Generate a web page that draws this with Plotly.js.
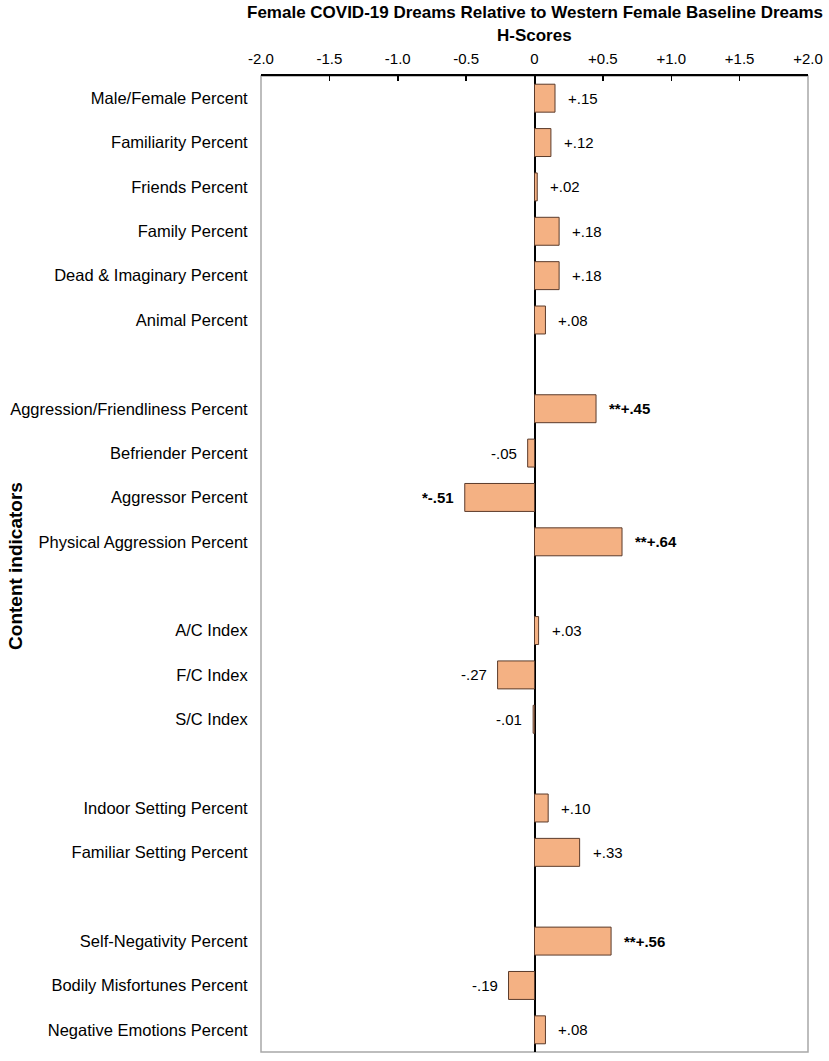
<!DOCTYPE html>
<html>
<head>
<meta charset="utf-8">
<script src="https://cdn.plot.ly/plotly-3.0.1.min.js"></script>
<style>
  body { margin: 0; background: #fff; }
  #chart { width: 829px; height: 1061px; }
</style>
</head>
<body>
<div id="chart"></div>
<script>
// null marks the empty row between groups
const categories = [
    'Male/Female Percent', 'Familiarity Percent', 'Friends Percent', 'Family Percent',
    'Dead & Imaginary Percent', 'Animal Percent', null,
    'Aggression/Friendliness Percent', 'Befriender Percent', 'Aggressor Percent',
    'Physical Aggression Percent', null,
    'A/C Index', 'F/C Index', 'S/C Index', null,
    'Indoor Setting Percent', 'Familiar Setting Percent', null,
    'Self-Negativity Percent', 'Bodily Misfortunes Percent', 'Negative Emotions Percent'
];
const hScores = [
    0.15, 0.12, 0.02, 0.18, 0.18, 0.08, null,
    0.45, -0.05, -0.51, 0.64, null,
    0.03, -0.27, -0.01, null,
    0.10, 0.33, null,
    0.56, -0.19, 0.08
];
// significance stars
const stars = [
    '', '', '', '', '', '', null,
    '**', '', '*', '**', null,
    '', '', '', null,
    '', '', null,
    '**', '', ''
];
const tickVals = [-2, -1.5, -1, -0.5, 0, 0.5, 1, 1.5, 2];
const tickText = ['-2.0', '-1.5', '-1.0', '-0.5', '0', '+0.5', '+1.0', '+1.5', '+2.0'];

const FONT = 'Liberation Sans, Arial, Helvetica, sans-serif';

const rows = [], names = [], vals = [];
categories.forEach((c, i) => {
    if (c === null) return;
    rows.push(i);
    names.push(c);
    vals.push(hScores[i]);
});

function fmt(v) {
    const s = Math.abs(v).toFixed(2).replace(/^0/, '');
    return (v < 0 ? '-' : '+') + s;
}

const annotations = rows.map((r, k) => {
    const v = vals[k];
    const st = stars[r];
    const txt = st + fmt(v);
    return {
        x: v, y: r, xref: 'x', yref: 'y',
        text: st ? '<b>' + txt + '</b>' : txt,
        showarrow: false,
        xanchor: v < 0 ? 'right' : 'left',
        xshift: v < 0 ? -9 : 11,
        font: { family: FONT, size: 15, color: '#000' }
    };
});

// y axis title, placed by hand so it sits left of the long labels
annotations.push({
    text: '<b>Content indicators</b>',
    xref: 'paper', yref: 'paper', x: 0, y: 0.498,
    xanchor: 'center', yanchor: 'middle',
    xshift: -245, textangle: -90, showarrow: false,
    font: { family: FONT, size: 19, color: '#000' }
});

// two-line chart title
annotations.push({
    text: '<b>Female COVID-19 Dreams Relative to Western Female Baseline Dreams</b>',
    xref: 'paper', yref: 'paper', x: 0.5, y: 1,
    xanchor: 'center', yanchor: 'middle', yshift: 64, showarrow: false,
    font: { family: FONT, size: 17, color: '#000' }
});
annotations.push({
    text: '<b>H-Scores</b>',
    xref: 'paper', yref: 'paper', x: 0.5, y: 1,
    xanchor: 'center', yanchor: 'middle', yshift: 41, showarrow: false,
    font: { family: FONT, size: 17, color: '#000' }
});

const data = [{
    type: 'bar',
    orientation: 'h',
    x: vals,
    y: rows,
    width: 0.63,
    marker: { color: '#F4B183', line: { color: '#5b3b2b', width: 1 } },
    hoverinfo: 'x+text',
    text: names,
    textposition: 'none'
}];

const layout = {
    width: 829, height: 1061,
    margin: { l: 261, r: 21, t: 76, b: 9 },
    paper_bgcolor: '#fff', plot_bgcolor: '#fff',
    font: { family: FONT, size: 15, color: '#000' },
    xaxis: {
        side: 'top', range: [-2, 2],
        tickvals: tickVals, ticktext: tickText,
        ticks: 'inside', ticklen: 5, tickcolor: '#000', tickwidth: 1.5,
        ticklabelstandoff: 4,
        showline: true, linecolor: '#000', linewidth: 2,
        showgrid: false,
        zeroline: true, zerolinecolor: '#000', zerolinewidth: 2,
        tickfont: { size: 15 }, fixedrange: true
    },
    yaxis: {
        range: [21.5, -0.5],
        tickvals: rows, ticktext: names,
        ticks: 'outside', ticklen: 9, tickcolor: 'rgba(0,0,0,0)',
        showline: false, showgrid: false, zeroline: false,
        tickfont: { size: 16.5 }, fixedrange: true
    },
    shapes: [{
        type: 'rect', xref: 'paper', yref: 'paper', x0: 0, x1: 1, y0: 0, y1: 1,
        line: { color: '#a8a8a8', width: 1.5 }, layer: 'below'
    }],
    annotations: annotations,
    showlegend: false,
    bargap: 0
};

Plotly.newPlot('chart', data, layout, { displayModeBar: false, staticPlot: true });
</script>
</body>
</html>
